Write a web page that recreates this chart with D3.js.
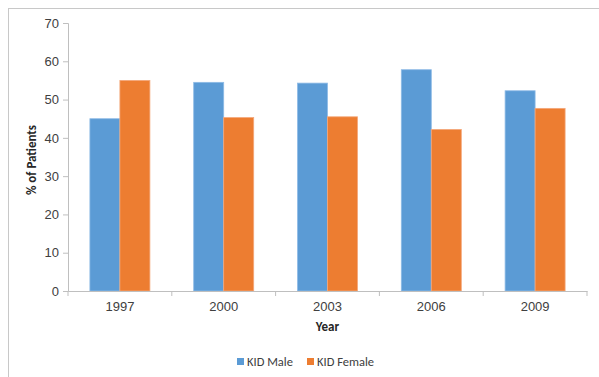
<!DOCTYPE html>
<html>
<head>
<meta charset="utf-8">
<script src="https://cdn.jsdelivr.net/npm/d3@7"></script>
<style>
  body { margin: 0; background: #fff; }
  svg { display: block; font-family: Carlito, "Liberation Sans", sans-serif; }
</style>
</head>
<body>
<div id="chart"></div>
<script>
// chart data
const years = ['1997', '2000', '2003', '2006', '2009'];
const seriesNames = ['KID Male', 'KID Female'];
const maleValues = [45.0, 54.5, 54.3, 57.8, 52.3];
const femaleValues = [55.0, 45.3, 45.5, 42.2, 47.7];
const yTicks = [0, 10, 20, 30, 40, 50, 60, 70];
const colors = ['#5b9bd5', '#ed7d31'];

const W = 599, H = 377;
const plot = {left: 68, right: 587, top: 23, bottom: 291};

const svg = d3.select('#chart').append('svg')
  .attr('width', W)
  .attr('height', H);

// outer chart border
svg.append('rect')
  .attr('x', 8.5).attr('y', 8.5)
  .attr('width', W + 10).attr('height', H + 10)
  .attr('fill', 'none')
  .attr('stroke', '#c8c8c8');

const x = d3.scaleBand().domain(years).range([plot.left, plot.right]);
const xSub = d3.scaleBand().domain(seriesNames).range([0, 60]);
const y = d3.scaleLinear().domain([0, 70]).range([plot.bottom, plot.top]);

const rows = years.map((yr, i) => ({year: yr, values: [maleValues[i], femaleValues[i]]}));

const groups = svg.selectAll('g.grp')
  .data(rows)
  .join('g')
  .attr('class', 'grp')
  .attr('transform', d => `translate(${x(d.year) + (x.bandwidth() - 60) / 2},0)`);

groups.selectAll('rect')
  .data(d => d.values.map((v, k) => ({name: seriesNames[k], value: v, k})))
  .join('rect')
  .attr('x', d => xSub(d.name))
  .attr('width', xSub.bandwidth())
  .attr('y', d => y(d.value))
  .attr('height', d => y(0) - y(d.value))
  .attr('fill', d => colors[d.k])
  .attr('stroke', d => d.k === 0 ? '#8ebbe6' : '#f4a77a')
  .attr('stroke-width', 0.8);

// y axis
const yAxis = svg.append('g')
  .attr('transform', `translate(${plot.left},0)`)
  .call(d3.axisLeft(y).tickValues(yTicks).tickSize(5).tickPadding(4));
yAxis.select('.domain').attr('stroke', '#bfbfbf');
yAxis.selectAll('.tick line').attr('stroke', '#bfbfbf');
yAxis.selectAll('.tick text')
  .attr('fill', '#404040')
  .style('font-size', '13px');

// x axis
const xAxis = svg.append('g')
  .attr('transform', `translate(0,${plot.bottom})`)
  .call(d3.axisBottom(x).tickSize(0).tickPadding(11));
xAxis.select('.domain').attr('stroke', '#bfbfbf');
xAxis.selectAll('.tick text')
  .attr('fill', '#404040')
  .style('font-size', '13px');
// category boundary ticks
xAxis.selectAll('line.sep')
  .data(years.concat(['end']))
  .join('line')
  .attr('class', 'sep')
  .attr('x1', (d, i) => i < years.length ? x(d) : plot.right)
  .attr('x2', (d, i) => i < years.length ? x(d) : plot.right)
  .attr('y1', 0).attr('y2', 5)
  .attr('stroke', '#bfbfbf');

// axis titles
svg.append('text')
  .attr('transform', `translate(36,${(plot.top + plot.bottom) / 2 + 3}) rotate(-90)`)
  .attr('text-anchor', 'middle')
  .attr('fill', '#262626')
  .style('font-size', '13px')
  .style('font-weight', 'bold')
  .text('% of Patients');

svg.append('text')
  .attr('x', (plot.left + plot.right) / 2)
  .attr('y', 331)
  .attr('text-anchor', 'middle')
  .attr('fill', '#262626')
  .style('font-size', '13px')
  .style('font-weight', 'bold')
  .text('Year');

// legend
const legendX = [237, 307];
const legend = svg.selectAll('g.leg')
  .data(seriesNames)
  .join('g')
  .attr('class', 'leg')
  .attr('transform', (d, i) => `translate(${legendX[i]},362)`);
legend.append('rect')
  .attr('x', 0).attr('y', -4)
  .attr('width', 7).attr('height', 7)
  .attr('fill', (d, i) => colors[i]);
legend.append('text')
  .attr('x', 10).attr('y', 4)
  .attr('fill', '#404040')
  .style('font-size', '12.5px')
  .text(d => d);
</script>
</body>
</html>
